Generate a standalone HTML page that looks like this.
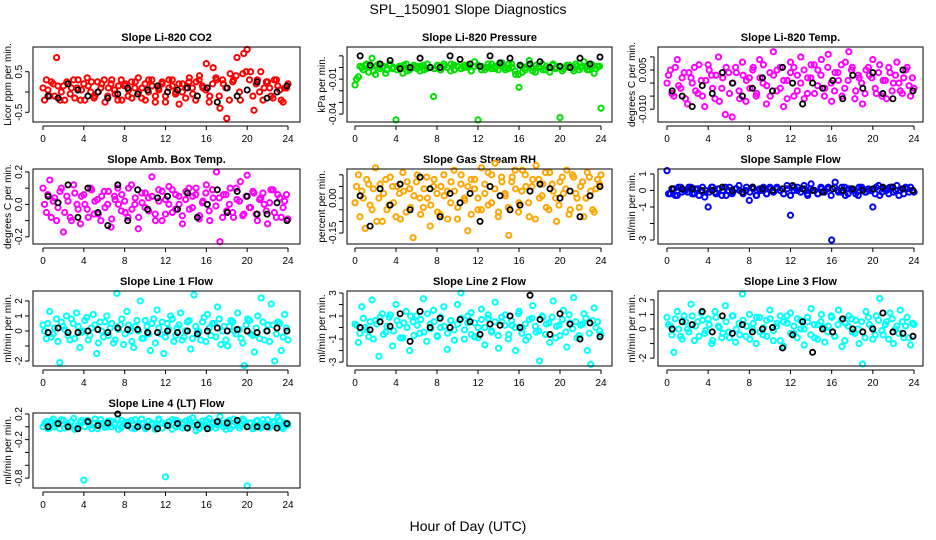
<!DOCTYPE html>
<html><head><meta charset="utf-8"><style>
html,body{margin:0;padding:0;background:#fff;}
svg{display:block;font-family:"Liberation Sans",sans-serif;}
</style></head><body>
<svg id="chart" width="936" height="540" viewBox="0 0 936 540" xmlns="http://www.w3.org/2000/svg">
<rect width="936" height="540" fill="#fff"/>
<text x="468" y="14" text-anchor="middle" font-size="14">SPL_150901  Slope Diagnostics</text>
<text x="468" y="531" text-anchor="middle" font-size="14">Hour of Day (UTC)</text>
<g id="panels"></g>
</svg>
<script>
const xTicks=[0,4,8,12,16,20,24];
const titles=["Slope Li-820 CO2","Slope Li-820 Pressure","Slope Li-820 Temp.","Slope Amb. Box Temp.","Slope Gas Stream RH","Slope Sample Flow","Slope Line 1 Flow","Slope Line 2 Flow","Slope Line 3 Flow","Slope Line 4 (LT) Flow"];
const yTitles=["Licor ppm per min.","kPa per min.","degrees C per min.","degrees C per min.","percent per min.","ml/min per min.","ml/min per min.","ml/min per min.","ml/min per min.","ml/min per min."];
const yDomains=[[-0.74,1.11],[-0.0468,0.0176],[-0.0149,0.0138],[-0.244,0.218],[-0.197,0.125],[-3.24,1.3],[-2.33,2.66],[-3.34,3.17],[-2.54,2.61],[-0.954,0.215]];
const yTicks=[[-0.5,0,0.5],[0.01,0,-0.01,-0.02,-0.03,-0.04],[0.01,0.005,0,-0.005,-0.01],[0.2,0.1,0,-0.1,-0.2],[0.1,0.05,0,-0.05,-0.1,-0.15],[1,0,-1,-2,-3],[2,1,0,-1,-2],[3,2,1,0,-1,-2,-3],[2,1,0,-1,-2],[0.2,0,-0.2,-0.4,-0.6,-0.8]];
const yTickLabels=[["-0.5","","0.5"],["","","-0.01","","","-0.04"],["","0.005","","","-0.010"],["0.2","","0.0","","-0.2"],["","","0.00","","","-0.15"],["1","0","-1","","-3"],["2","1","0","","-2"],["3","","1","","-1","","-3"],["2","1","0","","-2"],["0.2","","-0.2","","","-0.8"]];
const colors=["#ff0000","#00e000","#ff00ff","#ff00ff","#ffa500","#0000ff","#00ffff","#00ffff","#00ffff","#00ffff"];
const s1=[0.1,0.3,-0.1,0.2,0.85,-0.2,0.15,0.25,-0.05,0.3,0.1,-0.2,0.2,0.35,0.0,-0.15,0.25,0.1,0.3,-0.1,0.2,0.05,-0.2,0.3,0.15,-0.1,0.25,0.1,0.35,-0.15,0.2,0.0,0.3,-0.25,0.1,0.25,-0.1,0.3,0.15,0.0,-0.3,0.2,0.1,0.35,-0.05,0.25,0.4,0.1,0.7,-0.1,0.6,0.3,-0.4,0.2,-0.65,0.45,0.3,0.85,-0.2,0.95,1.05,0.5,-0.45,0.3,0.5,0.1,0.25,-0.1,0.3,0.15,-0.2,0.1,0.2];
const s2=[-0.015,-0.008,0.0,0.002,-0.004,0.008,-0.006,0.003,0.0,-0.005,0.002,-0.001,-0.045,0.001,-0.005,0.003,-0.002,0.0,0.001,-0.003,0.002,-0.001,0.0,-0.025,0.001,-0.002,0.003,0.0,-0.003,0.002,0.001,-0.001,0.0,0.002,-0.003,0.005,-0.045,0.001,-0.002,0.0,0.003,-0.001,0.002,0.004,-0.002,0.003,0.0,-0.006,-0.017,-0.004,0.0,0.006,-0.003,0.002,0.0,-0.002,0.001,-0.004,0.003,0.0,-0.043,-0.001,0.002,0.0,-0.003,0.001,0.0,0.005,-0.002,0.003,-0.005,0.001,-0.035];
const s3=[0.0,0.005,-0.005,0.009,-0.002,0.004,-0.008,0.002,0.006,-0.004,0.001,-0.009,0.007,0.003,-0.006,0.01,-0.002,-0.012,0.004,-0.013,0.006,-0.003,0.008,-0.007,0.002,0.005,-0.005,0.009,0.0,-0.008,0.004,0.012,-0.003,0.006,-0.009,0.001,0.008,-0.005,0.003,0.01,-0.006,0.002,0.007,-0.004,0.005,0.009,-0.002,0.011,-0.007,0.004,0.001,-0.005,0.008,0.012,0.006,-0.003,0.002,-0.008,0.005,0.003,0.009,-0.004,0.007,0.001,-0.006,0.004,0.0,0.008,-0.003,0.002,0.006,-0.005,-0.002];
const s4=[0.1,-0.05,0.15,0.02,-0.1,0.08,-0.17,0.05,-0.08,0.12,0.0,-0.12,0.06,-0.03,0.1,-0.06,0.03,-0.1,0.08,0.0,-0.14,0.05,0.1,-0.04,0.02,-0.08,0.12,0.0,-0.15,0.07,-0.02,0.04,0.17,-0.06,0.09,-0.1,0.03,0.11,-0.05,0.06,0.0,-0.12,0.08,-0.03,0.05,0.1,-0.07,0.02,0.12,-0.1,0.04,0.2,-0.23,0.06,-0.04,0.1,-0.08,0.03,0.14,-0.06,0.18,-0.02,0.07,-0.1,0.04,0.0,-0.12,0.09,-0.05,0.06,-0.08,0.02,-0.09];
const s5=[-0.02,0.1,0.03,-0.13,0.06,-0.05,0.13,0.0,-0.1,0.08,-0.03,0.05,-0.08,0.02,0.11,-0.06,0.04,-0.17,0.07,0.0,-0.04,0.09,-0.12,0.05,0.02,-0.07,0.1,0.03,-0.02,0.12,-0.09,0.06,0.0,-0.14,0.08,0.04,-0.05,0.13,0.02,-0.03,0.1,0.15,-0.06,0.07,0.01,-0.16,0.09,0.04,-0.02,0.12,0.05,-0.08,0.08,0.14,0.0,0.06,-0.04,0.11,0.03,-0.1,0.07,0.02,0.12,-0.05,0.09,0.0,0.05,-0.08,0.11,0.03,-0.06,0.08,0.1];
const s6=[1.2,-0.2,0.1,-0.3,0.2,0.0,-0.1,0.2,-0.2,0.1,0.0,-0.4,-1.0,0.2,-0.1,0.1,-0.3,0.2,0.0,-0.2,0.1,0.3,-0.1,0.0,-0.6,0.2,-0.3,0.1,0.0,-0.2,0.2,-0.1,0.1,0.0,-0.2,0.3,-1.5,0.0,0.2,-0.1,0.1,-0.3,0.4,0.0,-0.2,0.1,0.0,0.2,-3.0,0.5,-0.1,0.2,-0.3,0.1,0.0,-0.2,0.2,0.1,-0.1,0.0,-1.0,0.2,-0.3,0.1,0.0,0.2,-0.1,0.3,0.0,-0.2,0.1,0.2,-0.1];
const s7=[0.4,-0.5,1.3,-0.2,0.8,-2.1,0.3,1.0,-0.6,0.5,1.2,-1.1,0.0,0.9,-0.3,1.1,-1.5,0.6,-0.4,1.0,0.2,-0.8,2.5,0.4,-0.9,1.3,0.0,-1.1,0.7,2.0,-0.5,0.3,-1.3,0.8,1.4,-0.2,-1.5,0.5,1.0,-0.7,0.2,1.2,-0.4,0.6,-1.2,2.4,0.0,-0.6,0.9,1.1,-0.3,0.5,1.6,-0.9,0.3,-1.0,0.7,0.0,1.2,-0.5,-2.3,0.8,-0.2,-1.4,1.0,2.2,-0.6,0.4,1.8,-2.0,0.6,-1.3,1.1,-0.6];
const s8=[0.3,-1.3,1.8,0.0,-0.8,2.4,0.6,-2.5,1.2,-0.4,0.9,-1.6,2.0,0.2,-0.9,1.4,-2.0,0.5,1.0,-0.5,2.5,-1.2,0.3,1.5,-0.7,0.0,1.8,-1.9,0.6,-0.2,2.0,3.0,-1.0,0.4,1.3,-0.8,0.0,1.6,-1.5,0.8,-0.3,2.2,-1.8,0.5,1.1,-0.6,0.2,-2.0,1.4,0.0,-1.1,0.7,1.9,-0.4,-2.9,0.9,0.3,-1.3,2.3,0.1,-0.7,1.5,-1.7,0.4,2.6,-0.9,0.2,1.2,-2.0,-3.2,1.7,0.5,-0.6];
const s9=[0.8,0.2,-1.6,1.2,-0.5,0.9,0.0,1.7,-0.8,0.5,1.1,-0.3,0.7,-1.0,1.2,0.2,-0.6,1.6,-0.2,0.9,-0.9,0.4,2.4,-0.5,1.0,0.0,-1.0,0.8,-0.4,0.6,1.3,-0.8,0.2,0.9,-1.2,0.4,1.1,-0.3,0.7,0.0,-1.1,0.5,1.4,-0.6,0.3,1.0,-0.9,0.2,0.8,-0.5,1.3,-1.2,0.4,0.9,-0.2,0.6,-1.0,-2.4,1.2,0.3,-0.7,0.9,2.1,-0.4,0.5,1.1,-1.0,0.2,1.3,-0.6,0.8,-1.1,0.3];
const s10=[0.0,0.08,-0.02,0.12,0.03,-0.03,0.1,0.05,0.0,0.13,-0.02,0.07,-0.83,0.1,0.02,0.06,-0.03,0.11,0.04,0.0,0.09,0.03,0.12,-0.01,0.07,0.02,0.1,-0.03,0.05,0.12,0.0,0.08,0.03,-0.04,0.1,0.06,-0.78,0.02,0.11,0.0,0.07,-0.02,0.09,0.04,0.14,-0.06,0.05,0.01,0.1,-0.02,0.07,0.03,0.16,0.0,0.08,-0.03,0.12,0.04,0.02,0.09,-0.92,0.06,0.0,0.1,-0.02,0.05,0.11,0.01,0.07,0.15,-0.01,0.06,0.03];
// second pass of colored readings (dense core band)
const c1=[-0.2,0.05,0.25,-0.1,0.15,0.0,-0.2,0.2,0.1,-0.15,0.3,0.05,-0.2,0.15,0.25,-0.1,0.0,0.2,-0.25,0.1,0.3,-0.05,0.15,-0.2,0.2,0.05,-0.15,0.25,0.0,0.1,-0.2,0.3,0.15,-0.1,0.05,0.2,-0.25,0.1,0.3,-0.05,0.2,0.0,-0.15,0.25,0.1,-0.2,0.3,0.15,0.05,-0.25,0.2,0.35,-0.1,0.3,0.1,-0.2,0.25,0.4,0.0,0.45,0.5,0.3,-0.1,0.2,0.0,-0.2,0.25,0.1,-0.15,0.3,0.05,-0.25,0.1];
const c2=[-0.01,0.001,-0.002,0.003,0.0,-0.003,0.002,-0.001,0.001,-0.002,0.003,0.0,-0.002,0.001,0.002,-0.003,0.0,0.002,-0.001,0.001,-0.002,0.003,0.0,-0.001,0.002,-0.002,0.001,0.0,0.003,-0.002,0.001,-0.001,0.002,0.0,-0.003,0.001,0.002,-0.002,0.0,0.003,-0.001,0.001,-0.002,0.002,0.0,-0.001,0.003,-0.003,-0.006,0.001,-0.002,0.002,0.0,-0.004,0.001,0.003,-0.002,0.0,0.002,-0.001,0.001,-0.003,0.0,0.002,-0.001,0.003,-0.002,0.001,0.0,-0.002,0.002,-0.001,0.001];
const c3=[0.003,-0.004,0.006,-0.001,0.002,-0.006,0.004,0.0,-0.003,0.007,-0.005,0.001,0.005,-0.002,0.003,-0.007,0.002,0.006,-0.004,0.0,0.004,-0.006,0.003,0.001,-0.002,0.006,-0.004,0.002,0.007,-0.001,-0.005,0.003,0.005,-0.002,0.001,-0.006,0.004,0.006,-0.003,0.0,0.005,-0.004,0.002,0.007,-0.001,0.003,-0.005,0.006,0.0,-0.003,0.004,0.007,-0.002,0.001,0.005,-0.006,0.003,0.0,-0.004,0.006,0.002,-0.002,0.004,-0.005,0.001,0.006,-0.003,0.003,0.0,-0.004,0.005,-0.001,0.002];
const c4=[0.0,0.06,-0.08,0.04,-0.02,0.1,-0.05,0.02,-0.1,0.07,-0.03,0.05,0.0,-0.08,0.09,0.02,-0.06,0.05,-0.02,0.08,-0.09,0.03,0.0,0.06,-0.05,0.1,-0.03,0.04,-0.08,0.01,0.07,-0.04,0.05,-0.1,0.02,0.08,-0.06,0.0,0.09,-0.03,0.05,-0.07,0.03,0.1,-0.02,0.06,-0.09,0.01,0.07,-0.04,0.09,-0.01,0.04,-0.08,0.06,0.0,-0.05,0.1,0.02,-0.07,0.05,-0.02,0.08,-0.06,0.03,0.07,-0.04,0.01,0.09,-0.08,0.04,-0.02,0.06];
const c5=[0.05,-0.08,0.0,0.08,-0.03,0.04,-0.1,0.06,0.02,-0.05,0.09,-0.02,0.05,-0.09,0.03,0.07,-0.04,0.01,0.1,-0.07,0.04,0.0,-0.03,0.08,-0.06,0.05,0.01,-0.09,0.07,0.03,-0.04,0.1,-0.01,0.05,-0.07,0.08,0.0,-0.05,0.06,0.11,-0.02,0.04,-0.08,0.09,0.02,-0.04,0.07,0.12,-0.06,0.03,0.1,-0.02,0.05,-0.09,0.08,0.01,0.11,-0.05,0.06,0.0,-0.03,0.09,0.04,-0.07,0.1,0.02,-0.04,0.07,0.0,0.09,-0.05,0.04,0.06];
const c6=[-0.2,0.1,-0.3,0.2,-0.1,0.0,0.2,-0.2,0.1,-0.3,0.2,0.0,-0.1,0.2,-0.2,0.1,0.0,-0.3,0.2,-0.1,0.1,0.0,-0.2,0.2,-0.1,0.1,-0.3,0.0,0.2,-0.2,0.1,-0.1,0.2,0.0,-0.2,0.1,-0.3,0.2,0.0,-0.1,0.3,-0.2,0.1,0.0,-0.2,0.2,-0.1,0.1,-0.3,0.2,0.0,-0.1,0.2,-0.2,0.1,0.0,-0.3,0.2,-0.1,0.1,0.0,-0.2,0.3,-0.1,0.1,-0.2,0.2,0.0,-0.3,0.1,0.2,-0.1,0.0];
const c7=[0.0,0.5,-0.4,0.2,-0.7,0.6,0.1,-0.3,0.8,-0.5,0.3,-0.1,0.7,-0.6,0.2,0.4,-0.8,0.0,0.6,-0.3,0.5,-0.6,0.1,0.8,-0.2,0.4,-0.7,0.3,0.0,-0.5,0.7,-0.2,0.5,-0.8,0.2,0.6,-0.4,0.1,0.8,-0.3,0.4,-0.6,0.0,0.7,-0.5,0.3,-0.1,0.6,-0.7,0.2,0.5,-0.4,0.8,0.0,-0.6,0.3,0.6,-0.2,0.1,-0.8,0.4,0.7,-0.3,0.2,-0.5,0.6,0.0,-0.7,0.4,-0.2,0.5,-0.4,0.2];
const c8=[0.2,-0.5,0.8,-0.2,0.5,-1.0,0.3,0.9,-0.6,0.1,1.1,-0.3,0.6,-0.9,0.4,0.0,1.0,-0.7,0.2,0.7,-0.4,1.2,-0.1,0.5,-0.8,0.9,0.1,-0.5,0.6,-1.1,0.3,0.8,-0.2,1.0,-0.6,0.4,-0.9,0.7,0.0,1.1,-0.4,0.5,-0.7,0.9,0.2,-1.0,0.6,0.0,1.2,-0.5,0.3,-0.8,0.8,0.1,-0.3,1.0,-0.6,0.4,0.9,-0.9,0.2,0.7,-0.4,1.1,-0.1,0.5,-0.7,0.3,0.8,-0.5,0.6,0.0,-0.3];
const c9=[0.3,-0.4,0.7,0.0,-0.7,0.5,-0.2,0.9,0.2,-0.5,0.6,-0.1,0.3,-0.8,0.8,0.1,-0.3,0.5,-0.6,0.9,0.0,-0.4,0.6,0.2,-0.7,0.4,0.8,-0.2,0.1,-0.5,0.7,-0.1,0.4,-0.8,0.5,0.9,-0.3,0.2,-0.6,0.6,0.0,0.8,-0.4,0.3,-0.7,0.5,0.1,-0.2,0.9,-0.5,0.3,0.6,-0.8,0.2,0.7,-0.3,0.0,0.5,-0.6,0.8,0.1,-0.4,0.6,-0.1,0.3,-0.7,0.7,0.0,-0.3,0.5,0.2,-0.6,0.4];
const c10=[0.05,-0.03,0.09,0.0,0.06,0.11,-0.02,0.04,0.08,-0.04,0.02,0.1,0.0,0.07,-0.03,0.12,0.03,0.05,-0.01,0.09,0.0,0.06,-0.04,0.1,0.03,0.07,-0.02,0.11,0.01,0.05,-0.03,0.09,0.06,0.0,0.12,-0.02,0.04,0.08,-0.04,0.1,0.02,0.06,-0.01,0.11,0.03,0.07,-0.03,0.09,0.0,0.13,0.04,-0.02,0.08,0.05,-0.04,0.1,0.01,0.07,-0.02,0.12,0.03,0.06,-0.03,0.09,0.0,0.11,0.04,-0.01,0.08,0.02,0.1,-0.03,0.06];
const b1=[-0.1,-0.15,0.2,0.05,-0.1,0.0,-0.15,-0.05,0.1,-0.05,0.05,0.15,0.0,0.05,0.1,-0.1,0.1,-0.25,0.1,-0.1,0.05,0.25,-0.15,0.0,0.15];
const b2=[0.01,0.002,0.003,0.006,-0.001,0.0,0.008,0.0,0.0,0.01,0.007,0.003,0.001,0.01,0.004,0.008,0.002,0.003,0.005,0.0,0.001,0.0,0.008,0.003,0.009];
const b3=[-0.003,-0.005,-0.009,-0.001,-0.004,0.004,0.0,-0.005,-0.002,0.002,-0.003,0.006,0.0,-0.008,0.0,-0.002,0.001,-0.006,0.003,-0.002,0.004,-0.004,-0.006,0.005,-0.003];
const b4=[0.05,0.01,0.12,-0.08,0.1,-0.05,-0.13,0.12,-0.1,0.09,-0.03,0.04,0.05,-0.03,0.07,-0.08,0.0,0.09,-0.05,0.08,0.05,-0.06,-0.06,0.01,-0.1];
const b5=[0.01,-0.12,0.04,-0.03,0.06,-0.05,0.09,0.04,-0.08,0.02,-0.02,0.02,-0.1,0.05,0.01,-0.05,-0.03,0.03,0.06,0.04,0.0,0.03,-0.08,0.01,0.05];
const b6=[0.1,0.1,0.1,0.0,0.0,0.2,0.0,-0.1,0.2,0.1,0.0,0.1,0.3,0.1,0.0,-0.1,0.1,0.0,0.1,0.0,0.1,0.2,0.2,0.1,0.0];
const b7=[-0.1,0.2,-0.1,-0.1,0.0,0.1,-0.1,0.2,0.1,0.1,-0.1,-0.1,0.0,-0.1,0.0,-0.2,0.0,0.2,0.0,0.1,0.0,-0.1,0.0,0.2,0.0];
const b8=[0.0,-0.2,0.5,0.1,1.2,-1.2,1.4,0.0,0.8,0.0,0.7,0.5,-0.6,0.3,0.2,1.0,0.0,2.8,0.7,-0.6,1.2,0.3,-1.0,0.4,-0.8];
const b9=[0.0,0.5,0.3,1.2,-0.2,0.9,-0.3,0.3,-0.2,0.0,0.1,-1.3,-0.4,0.5,-1.6,0.0,-0.2,0.7,0.0,-0.2,0.0,1.1,-0.2,-0.3,-0.5];
const b10=[0.0,0.05,0.0,-0.03,0.08,0.02,0.06,0.2,0.02,0.0,0.0,-0.03,0.02,0.05,-0.02,0.03,-0.03,0.08,0.06,0.1,0.0,0.0,0.0,-0.02,0.05];
const series=[s1,s2,s3,s4,s5,s6,s7,s8,s9,s10];
const cores=[c1,c2,c3,c4,c5,c6,c7,c8,c9,c10];
const blacks=[b1,b2,b3,b4,b5,b6,b7,b8,b9,b10];

const NS="http://www.w3.org/2000/svg";
const root=document.getElementById('panels');
const cols=[{l:33,r:300,x0:43,x1:288,yt:22,tl:8},{l:347,r:612,x0:355,x1:601,yt:336,tl:322},{l:658,r:923,x0:667,x1:914,yt:646,tl:632}];
const rows=[47,169,291,413];
const H=75;
function mk(tag,attrs,parent){const e=document.createElementNS(NS,tag);for(const k in attrs)e.setAttribute(k,attrs[k]);parent.appendChild(e);return e;}
series.forEach((vals,p)=>{
  const c=cols[p%3], top=rows[Math.floor(p/3)], bot=top+H;
  const [ymin,ymax]=yDomains[p];
  const X=h=>c.x0+(c.x1-c.x0)*h/24;
  const Y=v=>bot-(v-ymin)/(ymax-ymin)*H;
  const g=mk('g',{},root);
  
  
  const t=mk('text',{x:(c.l+c.r)/2,y:top-6,'text-anchor':'middle','font-size':11,'font-weight':'bold'},g);
  t.textContent=titles[p];
  
  
  const pts=mk('g',{fill:'none',stroke:colors[p],'stroke-width':2},g);
  
  
  vals.forEach((v,i)=>{
    const cc=mk('circle',{cx:X(24*i/(vals.length-1)),cy:Y(v),r:2.6},pts);
    
    
  });
  const core=cores[p];
  core.forEach((v,i)=>{
    const cc=mk('circle',{cx:X(0.15+23.7*i/(core.length-1)),cy:Y(v),r:2.6},pts);
    
    
  });
  const bl=blacks[p];
  const bp=mk('g',{fill:'none',stroke:'#000','stroke-width':1.8},g);
  
  
  bl.forEach((v,i)=>{
    const cc=mk('circle',{cx:X(0.5+23.4*i/(bl.length-1)),cy:Y(v),r:2.6},bp);
    
    
  });
  const box=mk('rect',{x:c.l,y:top,width:c.r-c.l,height:H,fill:'none',stroke:'#000','stroke-width':1},g);
  
  
  const xa=mk('g',{},g);
  
  
  mk('line',{x1:X(0),x2:X(24),y1:bot+4,y2:bot+4,stroke:'#000'},xa);
  xTicks.forEach(h=>{
    mk('line',{x1:X(h),x2:X(h),y1:bot+4,y2:bot+8,stroke:'#000'},xa);
    const tx=mk('text',{x:X(h),y:bot+20,'text-anchor':'middle','font-size':10},xa);
    tx.textContent=h;
    
    
  });
  const ya=mk('g',{},g);
  
  
  const tks=yTicks[p];
  mk('line',{x1:c.l-4,x2:c.l-4,y1:Y(Math.max(...tks)),y2:Y(Math.min(...tks)),stroke:'#000'},ya);
  tks.forEach((v,i)=>{
    mk('line',{x1:c.l-8,x2:c.l-4,y1:Y(v),y2:Y(v),stroke:'#000'},ya);
    const lab=yTickLabels[p][i];
    if(lab){
      const tx=mk('text',{x:c.yt,y:Y(v),'text-anchor':'middle','font-size':10,transform:`rotate(-90 ${c.yt} ${Y(v)})`},ya);
      tx.textContent=lab;
      
      
    }
  });
  const yt=mk('text',{x:c.tl+3,y:(top+bot)/2,'text-anchor':'middle','font-size':10,transform:`rotate(-90 ${c.tl+3} ${(top+bot)/2})`},g);
  yt.textContent=yTitles[p];
  
  
});
</script>
</body></html>
